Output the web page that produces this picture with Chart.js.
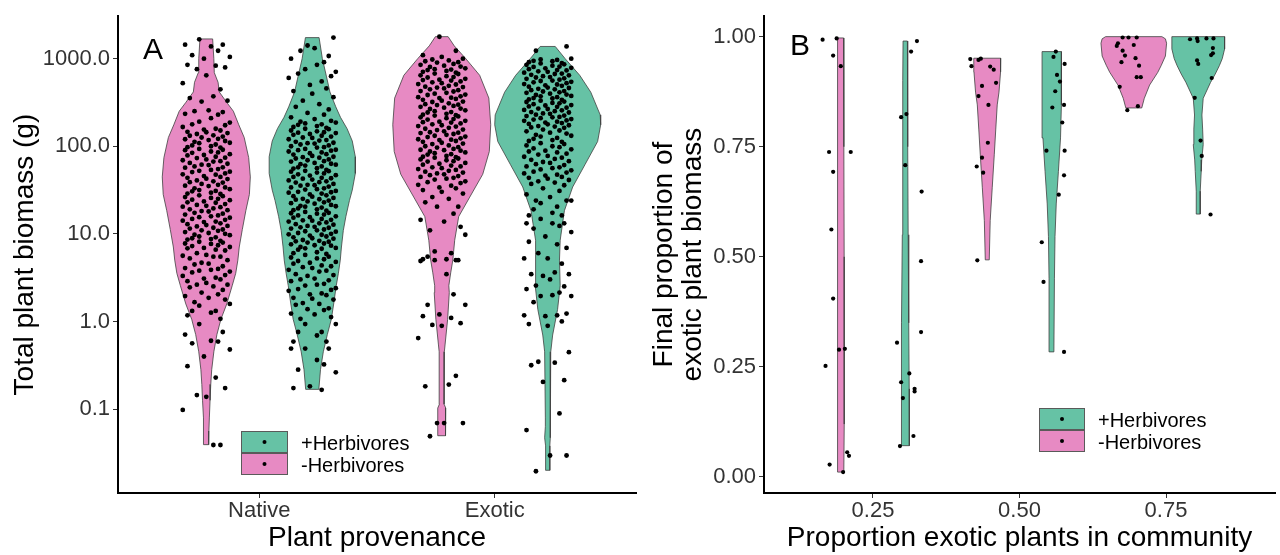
<!DOCTYPE html>
<html>
<head>
<meta charset="utf-8">
<script src="https://cdn.jsdelivr.net/npm/chart.js@4.4.1/dist/chart.umd.min.js"></script>
<style>
  html, body { margin: 0; padding: 0; background: #fff; }
  #wrap { position: relative; width: 1280px; height: 555px; }
  canvas { position: absolute; top: 0; }
  #chartA { left: 0; }
  #chartB { left: 640px; }
</style>
</head>
<body>
<div id="wrap">
  <canvas id="chartA" width="640" height="555"></canvas>
  <canvas id="chartB" width="640" height="555"></canvas>
</div>
<script>
const provenance = ['Native', 'Exotic'];
const herbivory = ['+Herbivores', '-Herbivores'];
const biomassTicks = [0.1, 1, 10, 100, 1000];
const biomassTickLabels = ['0.1', '1.0', '10.0', '100.0', '1000.0'];
const shareTicks = [0.25, 0.5, 0.75];
const shareTickLabels = ['0.25', '0.50', '0.75'];
const finalTicks = [0, 0.25, 0.5, 0.75, 1];
const finalTickLabels = ['0.00', '0.25', '0.50', '0.75', '1.00'];

// Panel A: log10 of total plant biomass (g), one value per plant
const nativeMinus = [
  3.22,3.16,3.16,3.14,3.09,3.04,3.02,3,2.93,2.92,2.9,2.88,2.81,2.72,2.65,
  2.57,2.55,2.52,2.51,2.41,2.4,2.39,2.37,2.36,2.32,2.28,2.27,2.25,2.24,2.22,
  2.2,2.19,2.18,2.165,2.16,2.15,2.14,2.125,2.12,2.11,2.1,2.085,2.08,2.07,2.06,2.05,2.04,2.035,2.02,2.01,
  2,1.99,1.985,1.97,1.96,1.955,1.94,1.93,1.925,1.91,1.9,1.895,1.88,1.87,1.865,1.85,1.84,1.83,1.825,1.81,
  1.8,1.79,1.785,1.77,1.76,1.755,1.74,1.73,1.72,1.71,1.705,1.69,1.68,1.675,1.66,1.65,1.64,1.63,1.625,1.61,
  1.6,1.59,1.585,1.57,1.56,1.55,1.545,1.53,1.52,1.51,1.5,1.49,1.485,1.47,1.46,1.455,1.44,1.43,1.42,1.41,
  1.4,1.39,1.385,1.37,1.36,1.355,1.34,1.33,1.32,1.31,1.305,1.29,1.28,1.27,1.26,1.255,1.24,1.23,1.22,1.21,
  1.2,1.19,1.185,1.17,1.16,1.15,1.14,1.135,1.12,1.11,1.1,1.09,1.085,1.07,1.06,1.05,1.04,1.035,1.02,1.01,
  1,.99,.985,.97,.96,.95,.94,.935,.92,.91,.9,.89,.885,.87,.86,.85,.84,.835,.82,.81,
  .78,.76,.75,.74,.74,.72,.7,.67,.66,.65,.63,.61,.6,.59,.58,.57,.56,.53,.52,.5,.49,.48,.46,.44,.42,.42,.4,.39,.36,.33,.31,.29,.27,.25,.22,.2,
  .18,.12,.12,.1,.07,.03,-.03,-.12,-.15,-.22,-.23,-.25,-.32,-.4,-.51,-.64,-.76,-.84,-.86,-1.01,-1.41,-1.41
];
const nativePlus = [
  3.24,3.15,3.12,3.09,3.03,3,2.96,2.93,2.88,2.85,2.83,2.8,2.78,2.74,2.7,2.66,2.63,2.6,2.56,2.52,2.48,2.45,2.42,2.38,2.36,2.33,2.31,
  2.29,2.28,2.27,2.26,2.25,2.245,2.23,2.22,2.21,2.2,2.195,2.18,2.17,2.16,2.155,2.15,2.14,2.13,2.12,2.11,
  2.1,2.095,2.08,2.07,2.065,2.05,2.04,2.035,2.03,2.02,2.01,2,1.99,1.985,1.97,1.96,1.955,1.95,1.94,1.93,
  1.92,1.91,1.905,1.89,1.88,1.875,1.87,1.86,1.85,1.84,1.83,1.825,1.81,1.8,1.795,1.79,1.78,1.77,1.76,1.75,
  1.745,1.73,1.72,1.715,1.71,1.7,1.69,1.68,1.67,1.665,1.65,1.64,1.635,1.63,1.62,1.61,1.6,1.59,1.585,1.57,
  1.56,1.555,1.55,1.54,1.53,1.52,1.51,1.505,1.49,1.48,1.475,1.47,1.46,1.45,1.44,1.43,1.425,1.41,1.4,1.395,
  1.39,1.38,1.37,1.36,1.35,1.345,1.33,1.32,1.315,1.31,1.3,1.29,1.28,1.27,1.265,1.25,1.24,1.235,1.23,1.22,
  1.21,1.2,1.19,1.185,1.17,1.16,1.155,1.15,1.14,1.13,1.12,1.11,1.105,1.09,1.08,1.075,1.07,1.06,1.05,1.04,
  1.03,1.025,1.01,1,.995,.99,.98,.97,.96,.95,.945,.93,.92,.915,.91,.9,.89,.88,.87,.865,.85,.84,.835,.83,.82,
  .79,.78,.77,.76,.74,.73,.72,.71,.69,.68,.67,.66,.64,.63,.62,.61,.59,.58,.57,.54,.53,.52,.49,.48,.47,.46,.43,.42,.41,.38,.37,.36,.35,.32,.31,.3,.27,.26,.25,.21,.2,.19,.15,.14,.13,.09,.08,
  .05,.03,-.03,-.03,-.12,-.12,-.16,-.23,-.23,-.31,-.31,-.31,-.44,-.49,-.55,-.58,-.74,-.76,-.78
];
const exoticMinus = [
  3.25,3.09,3.04,3.02,
  3,2.99,2.98,2.97,2.96,2.955,2.94,2.93,2.92,2.91,2.905,2.89,2.88,2.875,2.87,2.86,2.85,2.84,2.83,2.825,
  2.81,2.8,2.79,2.785,2.77,2.76,2.755,2.75,2.74,2.73,2.72,2.71,2.705,2.69,2.68,2.675,2.67,2.66,2.65,2.64,
  2.63,2.625,2.61,2.6,2.59,2.585,2.57,2.56,2.555,2.55,2.54,2.53,2.52,2.51,2.505,2.49,2.48,2.475,2.47,2.46,
  2.45,2.44,2.43,2.425,2.41,2.4,2.39,2.385,2.37,2.36,2.355,2.35,2.34,2.33,2.32,2.31,2.305,2.29,2.28,2.275,
  2.27,2.26,2.25,2.24,2.23,2.225,2.21,2.2,2.19,2.185,2.17,2.16,2.155,2.15,2.14,2.13,2.12,2.11,2.105,2.09,
  2.08,2.075,2.07,2.06,2.05,2.04,2.03,2.025,2.01,2,1.99,1.985,1.97,1.96,1.955,1.95,1.94,1.93,1.92,1.91,
  1.905,1.89,1.88,1.875,1.87,1.86,1.85,1.84,1.83,1.825,1.81,1.8,1.79,1.78,1.77,1.76,1.75,1.74,1.73,1.72,
  1.71,1.7,1.69,1.68,1.67,1.66,1.65,1.64,1.63,1.62,1.6,1.59,1.58,1.56,1.55,1.53,1.52,1.5,1.48,1.46,
  1.42,1.4,1.36,1.31,1.31,1.23,1.16,1.14,1.08,1.04,.99,.8,.78,.74,.71,.71,.7,.7,.7,.69,.54,.31,.19,.19,.08,.06,.04,
  -.02,-.04,-.05,-.19,-.62,-.72,-.74,-1.16,-1.16,-1.16,-1.31
];
const exoticPlus = [
  3.14,3.09,
  3,2.99,2.985,2.975,2.97,2.96,2.95,2.945,2.935,2.93,2.92,2.91,2.905,2.895,2.89,2.88,2.87,2.865,2.855,2.85,
  2.84,2.83,2.825,2.815,2.81,2.8,2.79,2.785,2.775,2.77,2.76,2.75,2.745,2.735,2.73,2.72,2.71,2.705,2.695,2.69,
  2.68,2.67,2.665,2.655,2.65,2.64,2.63,2.625,2.615,2.61,2.6,2.59,2.585,2.575,2.57,2.56,2.55,2.545,2.535,2.53,
  2.52,2.51,2.505,2.495,2.49,2.48,2.47,2.465,2.455,2.45,2.44,2.43,2.425,2.415,2.41,2.4,2.39,2.385,2.375,2.37,
  2.36,2.35,2.345,2.335,2.33,2.32,2.31,2.305,2.295,2.29,2.28,2.27,2.265,2.255,2.25,2.24,2.23,2.225,2.215,2.21,
  2.19,2.18,2.17,2.155,2.145,2.13,2.12,2.11,2.095,2.085,2.07,2.06,2.05,2.035,2.025,2.01,2,1.99,1.975,1.965,
  1.95,1.94,1.93,1.915,1.905,1.89,1.88,1.87,1.855,1.845,1.83,1.82,1.81,1.795,1.785,1.77,1.76,1.75,1.735,1.725,
  1.71,1.7,1.69,1.675,1.665,1.65,1.64,1.63,1.615,1.6,1.585,1.57,1.555,
  1.52,1.49,1.45,1.42,1.38,1.38,1.38,1.35,1.31,1.28,1.24,1.21,1.21,1.17,1.12,1.12,1.12,1.09,1.06,1.02,.97,.91,.88,.84,.78,.72,
  .72,.66,.56,.54,.54,.52,.48,.41,.4,.37,.33,.3,.29,.29,.22,.09,.07,.07,.06,0,-.03,-.05,
  -.35,-.46,-.47,-.5,-.67,-.69,-1.05,-1.24,-1.53,-1.53,-1.71
];

// Panel A violin outlines: [log10 biomass, half width in category units]
const nativeMinusShape = [[3.225,.027],[3,.032],[2.84,.034],[2.73,.05],[2.62,.055],[2.5,.087],[2.4,.115],[2.245,.138],[2.1,.161],[1.87,.18],[1.65,.187],[1.45,.183],[1.265,.168],[1.05,.153],[.85,.14],[.7,.134],[.55,.125],[.408,.11],[.2,.087],[.025,.062],[-.15,.045],[-.346,.032],[-.55,.023],[-.718,.019],[-.9,.016],[-1.101,.013],[-1.25,.011],[-1.406,.01]];
const nativePlusShape = [[3.24,.029],[3,.043],[2.8,.06],[2.62,.075],[2.45,.1],[2.33,.12],[2.2,.148],[2.06,.17],[1.88,.183],[1.69,.183],[1.5,.17],[1.38,.158],[1.2,.143],[1.04,.132],[.85,.124],[.7,.119],[.55,.111],[.41,.102],[.2,.091],[.025,.081],[-.15,.064],[-.346,.047],[-.55,.035],[-.775,.028]];
const exoticMinusShape = [[3.251,.027],[3.146,.053],[3,.102],[2.81,.161],[2.55,.2],[2.245,.208],[1.94,.202],[1.68,.174],[1.42,.119],[1.197,.072],[.927,.055],[.7,.047],[.555,.038],[.408,.03],[.33,.032],[.025,.025],[-.268,.014],[-.346,.011],[-.944,.01],[-.989,.017],[-1.304,.016]];
const exoticPlusShape = [[3.139,.032],[3,.074],[2.81,.136],[2.617,.183],[2.358,.223],[2.245,.225],[2.054,.212],[1.794,.159],[1.535,.106],[1.265,.071],[.927,.053],[.7,.05],[.408,.053],[.138,.042],[-.155,.021],[-.346,.013],[-1.101,.01],[-1.2,.01],[-1.327,.013],[-1.42,.009],[-1.699,.009]];

// Panel B: final exotic share of biomass per community
const bMinus25 = [.996,.993,.957,.933,.738,.738,.693,.562,.405,.291,.289,.252,.056,.048,.028,.011];
const bPlus25 = [.99,.966,.824,.817,.708,.648,.49,.329,.305,.235,.215,.2,.194,.179,.093,.07];
const bMinus50 = [.95,.949,.947,.933,.932,.925,.895,.888,.865,.845,.759,.725,.705,.691,.492];
const bPlus50 = [.966,.954,.938,.913,.898,.876,.845,.839,.805,.741,.741,.685,.641,.533,.443,.284];
const bMinus75 = [.998,.998,.998,.985,.981,.979,.968,.957,.951,.942,.934,.908,.908,.886,.842,.833];
const bPlus75 = [.996,.996,.996,.994,.99,.974,.962,.958,.946,.938,.906,.861,.764,.729,.596];

// Panel B violin outlines: [final share, half width in x units]
const bMinus25Shape = [[.997,.0048],[.9,.005],[.75,.0055],[.5,.0058],[.3,.006],[.12,.0058],[.011,.0052]];
const bPlus25Shape = [[.99,.0037],[.9,.004],[.75,.0045],[.55,.005],[.35,.006],[.2,.0068],[.071,.007]];
const bMinus50Shape = [[.951,.023],[.92,.0227],[.874,.02],[.845,.017],[.79,.0145],[.733,.012],[.658,.0085],[.582,.005],[.493,.0034]];
const bPlus50Shape = [[.966,.0165],[.845,.0165],[.77,.015],[.694,.0114],[.62,.0077],[.546,.0056],[.45,.0046],[.284,.0037]];
const bMinus75Shape = [[1,.048],[.995,.054],[.985,.056],[.956,.054],[.935,.047],[.919,.041],[.89,.027],[.86,.018],[.838,.0136]];
const bPlus75Shape = [[1,.045],[.972,.045],[.95,.041],[.934,.036],[.915,.029],[.896,.021],[.86,.0085],[.822,.0063],[.79,.0075],[.755,.0085],[.72,.006],[.694,.0051],[.649,.0034],[.597,.0034]];

// horizontal spread of the dots (x units)
const jitterA = [-.03,.07,-.09,.02,.05,-.06,.1,-.01,-.08,.04,.08,-.04,0,-.1,.06,.03,-.07,.09,-.02,.01,-.05,.07,-.09,.05,.02,-.03,.1,-.06,.08,-.1,.04,-.01,.06,-.08,0,.09,-.04,.03,-.07,.07,-.02,.05,-.09,.01,.08,-.05,.1,-.03,.04,-.06,.02,-.08,.06];
const jitterB = {
  m25: [-.007,-.031,-.013,0,-.02,.017,-.013,-.016,-.013,.007,-.003,-.026,.011,.014,-.019,.004],
  p25: [.02,.01,.002,-.007,0,.028,.027,.027,-.014,.007,-.007,.016,.016,-.004,.014,-.009],
  m50: [-.011,-.029,-.015,-.027,.005,.011,.015,-.009,-.015,.002,.001,-.009,-.018,-.007,-.017],
  p50: [.007,.003,.022,.009,.014,.006,.021,.001,.018,-.009,.022,.021,.012,-.017,-.014,.021],
  m75: [-.019,-.009,.005,-.027,0,-.029,-.019,-.015,.003,-.021,.009,.005,.012,-.024,.007,-.011],
  p75: [-.002,.014,.026,-.014,-.001,.025,.025,.022,-.002,0,.023,-.006,.004,.006,.021]
};

const FONT = 'Arial, "Liberation Sans", Helvetica, sans-serif';
const PINK = '#E78AC3';
const GREEN = '#66C2A5';
const OUTLINE = '#404040';
const TICK_TEXT = '#333333';

Chart.defaults.font.family = FONT;
Chart.defaults.animation = false;

const fromLog = v => 10 ** v;
const asIs = v => v;

function outline(shape, centre, toY) {
  const right = shape.map(([v, w]) => ({ x: centre + w, y: toY(v) }));
  const left = shape.slice().reverse().map(([v, w]) => ({ x: centre - w, y: toY(v) }));
  return right.concat(left, [right[0]]);
}

function violin(shape, centre, colour, toY) {
  return {
    data: outline(shape, centre, toY),
    showLine: true, fill: 'shape', tension: 0,
    backgroundColor: colour, borderColor: OUTLINE, borderWidth: 0.8,
    pointRadius: 0, pointHoverRadius: 0, order: 2
  };
}

function dots(points, r) {
  return {
    data: points, showLine: false,
    pointRadius: r, pointHoverRadius: r, pointBorderWidth: 0,
    pointBackgroundColor: '#000', order: 1
  };
}

const jitteredA = (values, centre, shift) =>
  values.map((v, i) => ({ x: centre + jitterA[(i + shift) % jitterA.length], y: fromLog(v) }));
const jitteredB = (values, offsets, centre) =>
  values.map((v, i) => ({ x: centre + offsets[i], y: v }));

// legend boxes and panel letter, drawn inside the plot
const herbivoreKey = {
  id: 'herbivoreKey',
  afterDraw(chart, args, o) {
    const { ctx } = chart;
    ctx.save();
    herbivory.forEach((label, i) => {
      const top = o.top + i * o.h;
      ctx.fillStyle = i === 0 ? GREEN : PINK;
      ctx.fillRect(o.left, top, o.w, o.h);
      ctx.strokeStyle = '#5a5a5a';
      ctx.lineWidth = 1;
      ctx.strokeRect(o.left + 0.5, top + 0.5, o.w - 1, o.h - 1);
      ctx.fillStyle = '#000';
      ctx.beginPath();
      ctx.arc(o.left + o.w / 2, top + o.h / 2, 2, 0, Math.PI * 2);
      ctx.fill();
      ctx.font = '20px ' + FONT;
      ctx.textBaseline = 'middle';
      ctx.textAlign = 'left';
      ctx.fillText(label, o.left + o.w + 13, top + o.h / 2 + 2);
    });
    ctx.font = '30px ' + FONT;
    ctx.textBaseline = 'alphabetic';
    ctx.fillText(o.panel, o.panelX, o.panelY);
    ctx.restore();
  }
};

function axis(extra) {
  return Object.assign({
    grid: { drawOnChartArea: false, tickLength: 5, color: '#333', lineWidth: 1 },
    border: { display: true, color: '#000', width: 2 }
  }, extra);
}

const tickFont = { size: 22, lineHeight: 1 };
const titleFont = { size: 28, lineHeight: 1 };

// Panel A
const dodgeA = 0.225;
new Chart(document.getElementById('chartA'), {
  type: 'line',
  data: {
    datasets: [
      violin(nativeMinusShape, 1 - dodgeA, PINK, fromLog),
      violin(nativePlusShape, 1 + dodgeA, GREEN, fromLog),
      violin(exoticMinusShape, 2 - dodgeA, PINK, fromLog),
      violin(exoticPlusShape, 2 + dodgeA, GREEN, fromLog),
      dots(jitteredA(nativeMinus, 1 - dodgeA, 0), 2.4),
      dots(jitteredA(nativePlus, 1 + dodgeA, 17), 2.4),
      dots(jitteredA(exoticMinus, 2 - dodgeA, 31), 2.4),
      dots(jitteredA(exoticPlus, 2 + dodgeA, 44), 2.4)
    ]
  },
  options: {
    responsive: false,
    devicePixelRatio: 1,
    events: [],
    layout: { padding: { top: 10, right: 4, bottom: 0, left: 0 } },
    plugins: {
      legend: { display: false },
      tooltip: { enabled: false },
      herbivoreKey: { left: 241, top: 431, w: 47, h: 22, panel: 'A', panelX: 143, panelY: 59 }
    },
    scales: {
      x: axis({
        type: 'linear', min: 0.4, max: 2.6,
        afterBuildTicks: s => { s.ticks = [1, 2].map(value => ({ value })); },
        afterFit: s => { s.height = 62; },
        ticks: { callback: (v, i) => provenance[i], font: tickFont, color: TICK_TEXT, padding: 2, maxRotation: 0, autoSkip: false },
        title: { display: true, text: 'Plant provenance', color: '#000', font: titleFont, padding: { top: 0, bottom: 3 } }
      }),
      y: axis({
        type: 'logarithmic', min: 10 ** -1.958, max: 10 ** 3.4845,
        afterBuildTicks: s => { s.ticks = biomassTicks.map(value => ({ value })); },
        afterFit: s => { s.width = 118; },
        ticks: { callback: (v, i) => biomassTickLabels[i], font: { size: 22 }, color: TICK_TEXT, padding: 3 },
        title: { display: true, text: 'Total plant biomass (g)', color: '#000', font: titleFont, padding: { top: 11, bottom: 0 } }
      })
    }
  },
  plugins: [herbivoreKey]
});

// Panel B
const dodgeB = 0.055;
new Chart(document.getElementById('chartB'), {
  type: 'line',
  data: {
    datasets: [
      violin(bMinus25Shape, 0.25 - dodgeB, PINK, asIs),
      violin(bPlus25Shape, 0.25 + dodgeB, GREEN, asIs),
      violin(bMinus50Shape, 0.5 - dodgeB, PINK, asIs),
      violin(bPlus50Shape, 0.5 + dodgeB, GREEN, asIs),
      violin(bMinus75Shape, 0.75 - dodgeB, PINK, asIs),
      violin(bPlus75Shape, 0.75 + dodgeB, GREEN, asIs),
      dots(jitteredB(bMinus25, jitterB.m25, 0.25 - dodgeB), 2.1),
      dots(jitteredB(bPlus25, jitterB.p25, 0.25 + dodgeB), 2.1),
      dots(jitteredB(bMinus50, jitterB.m50, 0.5 - dodgeB), 2.1),
      dots(jitteredB(bPlus50, jitterB.p50, 0.5 + dodgeB), 2.1),
      dots(jitteredB(bMinus75, jitterB.m75, 0.75 - dodgeB), 2.1),
      dots(jitteredB(bPlus75, jitterB.p75, 0.75 + dodgeB), 2.1)
    ]
  },
  options: {
    responsive: false,
    devicePixelRatio: 1,
    events: [],
    layout: { padding: { top: 10, right: 5, bottom: 0, left: 0 } },
    plugins: {
      legend: { display: false },
      tooltip: { enabled: false },
      herbivoreKey: { left: 399, top: 408, w: 46, h: 22, panel: 'B', panelX: 150, panelY: 55 }
    },
    scales: {
      x: axis({
        type: 'linear', min: 0.064, max: 0.936,
        afterBuildTicks: s => { s.ticks = shareTicks.map(value => ({ value })); },
        afterFit: s => { s.height = 62; },
        ticks: { callback: (v, i) => shareTickLabels[i], font: tickFont, color: TICK_TEXT, padding: 2, maxRotation: 0, autoSkip: false },
        title: { display: true, text: 'Proportion exotic plants in community', color: '#000', font: titleFont, padding: { top: 0, bottom: 3 } }
      }),
      y: axis({
        type: 'linear', min: -0.0365, max: 1.0464,
        afterBuildTicks: s => { s.ticks = finalTicks.map(value => ({ value })); },
        afterFit: s => { s.width = 124; },
        ticks: { callback: (v, i) => finalTickLabels[i], font: { size: 22 }, color: TICK_TEXT, padding: 3 },
        title: { display: true, text: ['Final proportion of', 'exotic plant biomass'], color: '#000', font: { size: 28, lineHeight: 1.04 }, padding: { top: 10, bottom: 0 } }
      })
    }
  },
  plugins: [herbivoreKey]
});
</script>
</body>
</html>
